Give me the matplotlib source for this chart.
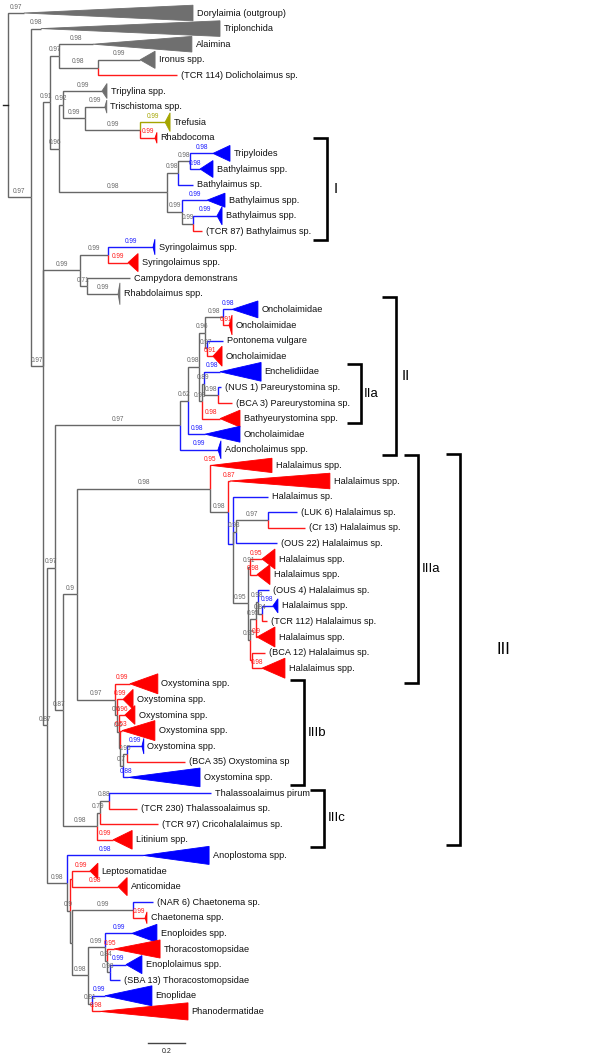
import matplotlib
matplotlib.use("Agg")
import matplotlib.pyplot as plt
from matplotlib.patches import Polygon

plt.rcParams['font.family'] = ['Liberation Sans', 'DejaVu Sans']

# ---------------- data ----------------
leaf_names = [
    "Dorylaimia (outgroup)", "Triplonchida", "Alaimina", "Ironus spp.",
    "(TCR 114) Dolicholaimus sp.", "Tripylina spp.", "Trischistoma spp.", "Trefusia",
    "Rhabdocoma", "Tripyloides", "Bathylaimus spp.", "Bathylaimus sp.",
    "Bathylaimus spp.", "Bathylaimus spp.", "(TCR 87) Bathylaimus sp.", "Syringolaimus spp.",
    "Syringolaimus spp.", "Campydora demonstrans", "Rhabdolaimus spp.", "Oncholaimidae",
    "Oncholaimidae", "Pontonema vulgare", "Oncholaimidae", "Enchelidiidae",
    "(NUS 1) Pareurystomina sp.", "(BCA 3) Pareurystomina sp.", "Bathyeurystomina spp.", "Oncholaimidae",
    "Adoncholaimus spp.", "Halalaimus spp.", "Halalaimus spp.", "Halalaimus sp.",
    "(LUK 6) Halalaimus sp.", "(Cr 13) Halalaimus sp.", "(OUS 22) Halalaimus sp.", "Halalaimus spp.",
    "Halalaimus spp.", "(OUS 4) Halalaimus sp.", "Halalaimus spp.", "(TCR 112) Halalaimus sp.",
    "Halalaimus spp.", "(BCA 12) Halalaimus sp.", "Halalaimus spp.", "Oxystomina spp.",
    "Oxystomina spp.", "Oxystomina spp.", "Oxystomina spp.", "Oxystomina spp.",
    "(BCA 35) Oxystomina sp", "Oxystomina spp.", "Thalassoalaimus pirum", "(TCR 230) Thalassoalaimus sp.",
    "(TCR 97) Cricohalalaimus sp.", "Litinium spp.", "Anoplostoma spp.", "Leptosomatidae",
    "Anticomidae", "(NAR 6) Chaetonema sp.", "Chaetonema spp.", "Enoploides spp.",
    "Thoracostomopsidae", "Enoplolaimus spp.", "(SBA 13) Thoracostomopsidae", "Enoplidae",
    "Phanodermatidae",
]
leaf_parent = [
    "root", "A", "D", "E", "E", "I", "J", "K",
    "K", "P", "P", "Q", "N", "O", "O", "S1",
    "S1", "S2", "S2", "DD", "DD", "JJ", "JJ", "GG",
    "FF", "FF", "HH", "BB", "N2", "W", "KK", "MM",
    "OO", "OO", "P2", "QQ", "QQ", "VV", "UU", "UU",
    "WW", "XX", "XX", "X", "X2", "X3", "X3b", "X6",
    "X6", "X4", "Y2", "Y2", "Y1", "Y", "Z", "AA1",
    "AA1", "CH", "CH", "Z5", "Z6p", "Z7", "Z7", "Z4",
    "Z4",
]
leaf_depth = [
    0.086, 0.178, 0.459, 0.714, 0.914, 0.508, 0.524, 0.849,
    0.795, 1.108, 1.038, 1.000, 1.076, 1.130, 1.049, 0.784,
    0.649, 0.659, 0.595, 1.211, 1.195, 1.162, 1.108, 1.146,
    1.151, 1.211, 1.146, 1.065, 1.135, 1.097, 1.200, 1.405,
    1.562, 1.605, 1.454, 1.373, 1.346, 1.411, 1.432, 1.400,
    1.346, 1.389, 1.373, 0.659, 0.622, 0.632, 0.616, 0.724,
    0.957, 0.649, 1.097, 0.697, 0.811, 0.568, 0.730, 0.443,
    0.595, 0.784, 0.741, 0.670, 0.573, 0.638, 0.605, 0.524,
    0.497,
]
leaf_color = [
    "k", "k", "k", "k", "r", "k", "k", "y",
    "r", "b", "b", "b", "b", "b", "r", "b",
    "r", "k", "k", "b", "r", "b", "r", "b",
    "b", "r", "r", "b", "b", "r", "r", "b",
    "b", "r", "b", "r", "r", "b", "b", "r",
    "r", "r", "r", "r", "r", "r", "r", "b",
    "r", "b", "b", "r", "r", "r", "b", "r",
    "r", "b", "r", "b", "r", "b", "b", "b",
    "r",
]
leaf_support = [
    "0.97", "0.98", "0.98", "0.99", "", "0.99", "0.99", "0.99",
    "0.99", "0.98", "0.98", "", "0.99", "0.99", "", "0.99",
    "0.99", "", "0.99", "0.98", "0.91", "", "0.91", "0.98",
    "", "", "0.98", "0.98", "0.99", "0.95", "0.87", "",
    "", "", "", "0.95", "0.98", "", "0.98", "",
    "0.9", "", "0.98", "0.99", "0.99", "0.96", "0.53", "0.99",
    "", "0.88", "", "", "", "0.99", "0.98", "0.99",
    "0.98", "", "0.99", "0.99", "0.95", "0.99", "", "0.99",
    "0.98",
]
# collapsed-clade triangles: length (substitutions) and half height (rows); 0 = single taxon
clade_length = [
    0.914, 0.968, 0.535, 0.081, 0, 0.027, 0.010, 0.027,
    0.010, 0.092, 0.070, 0, 0.097, 0.027, 0, 0.010,
    0.054, 0, 0.010, 0.140, 0.016, 0, 0.049, 0.222,
    0, 0, 0.108, 0.189, 0.016, 0.330, 0.540, 0,
    0, 0, 0, 0.070, 0.070, 0, 0.027, 0,
    0.097, 0, 0.124, 0.151, 0.054, 0.054, 0.178, 0.010,
    0, 0.389, 0, 0, 0, 0.103, 0.357, 0.043,
    0.049, 0, 0.010, 0.135, 0.249, 0.086, 0, 0.254,
    0.476,
]
clade_half = [
    0.50, 0.50, 0.50, 0.55, 0, 0.48, 0.42, 0.60,
    0.35, 0.51, 0.54, 0, 0.45, 0.58, 0, 0.50,
    0.58, 0, 0.70, 0.54, 0.64, 0, 0.64, 0.60,
    0, 0, 0.54, 0.51, 0.58, 0.46, 0.50, 0,
    0, 0, 0, 0.64, 0.64, 0, 0.45, 0,
    0.64, 0, 0.64, 0.64, 0.64, 0.60, 0.64, 0.50,
    0, 0.60, 0, 0, 0, 0.60, 0.58, 0.50,
    0.58, 0, 0.38, 0.58, 0.58, 0.58, 0, 0.64,
    0.55,
]

node_names = ["root", "A", "C", "F", "D", "E", "H", "I", "J", "K", "L", "Q", "P", "N", "O",
              "G", "S1", "S2", "T", "R", "N2", "BB", "CC", "EE", "DD", "JJ", "HH", "GG", "FF",
              "U", "V", "W", "KK", "MM", "P2", "OO", "NN", "QQ", "RR", "WW", "VV", "UU", "XX",
              "X", "X2", "X3", "X3b", "X4", "X6", "Y", "Y1", "Y2",
              "Z", "Z1", "AA1", "Z1b", "CH", "Z3", "Z5", "Z6p", "Z7", "Z4"]
node_parent = [None, "root", "A", "C", "F", "D", "F", "H", "I", "J", "H", "L", "Q", "L", "N",
               "C", "G", "G", "C", "T", "R", "N2", "BB", "CC", "EE", "EE", "CC", "HH", "GG",
               "R", "U", "V", "W", "KK", "MM", "P2", "MM", "NN", "NN", "RR", "WW", "VV", "RR",
               "V", "X", "X2", "X3", "X3b", "X4", "U", "Y", "Y1",
               "T", "Z", "Z1", "Z1", "Z1b", "Z1b", "Z3", "Z5", "Z6p", "Z3"]
node_depth = [0.0, 0.124, 0.189, 0.227, 0.276, 0.486, 0.276, 0.297, 0.416, 0.714, 0.859, 0.919,
              0.984, 0.941, 1.000,
              0.389, 0.541, 0.427, 0.211, 0.254, 0.930, 0.973, 1.032, 1.065, 1.162, 1.076,
              1.049, 1.059, 1.135,
              0.297, 0.373, 1.092, 1.189, 1.216, 1.232, 1.405, 1.297, 1.308, 1.308, 1.341,
              1.351, 1.373, 1.319,
              0.578, 0.589, 0.600, 0.605, 0.622, 0.643, 0.481, 0.497, 0.546,
              0.319, 0.335, 0.346, 0.346, 0.676, 0.432, 0.524, 0.535, 0.551, 0.454]
node_color = ["k", "k", "k", "k", "k", "k", "k", "k", "k", "k", "k", "k", "k", "k", "k",
              "k", "k", "k", "k", "k", "k", "k", "k", "k", "k", "k", "k", "k", "k",
              "k", "k", "k", "k", "b", "k", "k", "k", "k", "k", "k", "k", "k", "r",
              "k", "k", "k", "k", "k", "k", "k", "k", "k",
              "k", "k", "r", "k", "k", "k", "k", "k", "k", "k"]
node_support = ["", "0.97", "0.97", "0.91", "0.97", "0.98", "0.96", "0.92", "0.99", "0.99",
                "0.98", "0.98", "0.98", "0.99", "0.99",
                "0.99", "0.99", "0.71", "0.87", "0.97", "0.97", "0.62", "0.98", "0.96", "0.98",
                "0.97", "0.93", "0.89", "0.98",
                "0.87", "0.9", "0.98", "0.98", "", "0.93", "0.97", "0.95", "0.91", "0.95",
                "0.95", "0.98", "0.84", "",
                "0.97", "0.5", "0.6", "", "0.7", "0.95", "0.98", "0.79", "0.88",
                "0.98", "0.9", "", "", "0.99", "0.98", "0.99", "0.84", "0.98", "0.81"]

# bracket annotations: label, top row, bottom row, depth of bracket spine
bracket_labels = ["I", "II", "IIa", "III", "IIIa", "IIIb", "IIIc"]
bracket_top = [8.0, 18.2, 22.5, 28.27, 28.33, 42.76, 49.8]
bracket_bottom = [14.55, 28.33, 26.3, 53.33, 42.95, 49.5, 53.46]
bracket_depth = [1.724, 2.097, 1.908, 2.443, 2.216, 1.600, 1.708]
bracket_size = [10.5, 10.5, 9.5, 12.0, 9.5, 9.5, 9.5]
bracket_gap = [5, 4, 2, 26, 3, 3, 3]

palette = {"k": "#676767", "r": "#ff1a1a", "b": "#1a1aff", "y": "#a5a500"}
tri_palette = {"k": "#6f6f6f", "r": "#ff0000", "b": "#0000ff", "y": "#a5a500"}

# ---------------- layout ----------------
fig = plt.figure(figsize=(6.0, 10.57), dpi=100)
ax = fig.add_axes([0, 0, 1, 1])
ax.set_xlim(-8 / 185, 592 / 185)
ax.set_ylim((1057 - 13) / 15.6, -13 / 15.6)
ax.axis("off")

children = {n: [] for n in node_names}
for i, p in enumerate(leaf_parent):
    children[p].append(("leaf", i))
for n, p in zip(node_names, node_parent):
    if p is not None:
        children[p].append(("node", n))

depth_of = dict(zip(node_names, node_depth))
color_of = dict(zip(node_names, node_color))
support_of = dict(zip(node_names, node_support))
ycache = {}


def item_y(item):
    kind, key = item
    if kind == "leaf":
        return float(key)
    if key not in ycache:
        ys = [item_y(c) for c in children[key]]
        ycache[key] = sum(ys) / len(ys)
    return ycache[key]


LW = 1.0
SUP_FS = 4.7
LEAF_FS = 6.6

for n in node_names:
    xp = depth_of[n]
    yp = item_y(("node", n))
    for c in children[n]:
        yc = item_y(c)
        if c[0] == "leaf":
            i = c[1]
            xc = leaf_depth[i]
            col = leaf_color[i]
            sup = leaf_support[i]
        else:
            xc = depth_of[c[1]]
            col = color_of[c[1]]
            sup = support_of[c[1]]
        ax.plot([xp, xp, xc], [yp, yc, yc], color=palette[col], lw=LW,
                solid_joinstyle="miter", solid_capstyle="butt", zorder=2)
        if sup:
            ax.annotate(sup, ((xp + xc) / 2, yc), xytext=(0, 4.3), textcoords="offset points",
                        ha="center", va="center", fontsize=SUP_FS, color=palette[col], zorder=4)

# root stub
ry = item_y(("node", "root"))
ax.plot([-5 / 185, 0], [ry, ry], color="#222222", lw=LW)

# leaves: triangles and names
for i, name in enumerate(leaf_names):
    x0 = leaf_depth[i]
    L = clade_length[i]
    h = clade_half[i]
    col = leaf_color[i]
    if L > 0:
        tri = Polygon([(x0, i), (x0 + L, i - h), (x0 + L, i + h)], closed=True,
                      facecolor=tri_palette[col], edgecolor=tri_palette[col], lw=0.6, zorder=3)
        ax.add_patch(tri)
    ax.annotate(name, (x0 + L, i), xytext=(2.6, 0), textcoords="offset points",
                ha="left", va="center", fontsize=LEAF_FS, color="#111111", zorder=5)

# brackets
arm = 14 / 185
for lab, t, b, x, fs, g in zip(bracket_labels, bracket_top, bracket_bottom, bracket_depth,
                               bracket_size, bracket_gap):
    ax.plot([x - arm, x, x, x - arm], [t, t, b, b], color="black", lw=1.9,
            solid_joinstyle="miter", solid_capstyle="butt", zorder=2)
    ax.annotate(lab, (x, (t + b) / 2), xytext=(g, 0), textcoords="offset points",
                ha="left", va="center", fontsize=fs, color="black")

# scale bar
sb_x0 = 140 / 185
sb_row = (1043 - 13) / 15.6
ax.plot([sb_x0, sb_x0 + 0.2], [sb_row, sb_row], color="#444444", lw=1.0)
ax.annotate("0.2", (sb_x0 + 0.1, sb_row), xytext=(0, -6), textcoords="offset points",
            ha="center", va="center", fontsize=5.0, color="#222222")

fig.savefig("out.png", dpi=100)
